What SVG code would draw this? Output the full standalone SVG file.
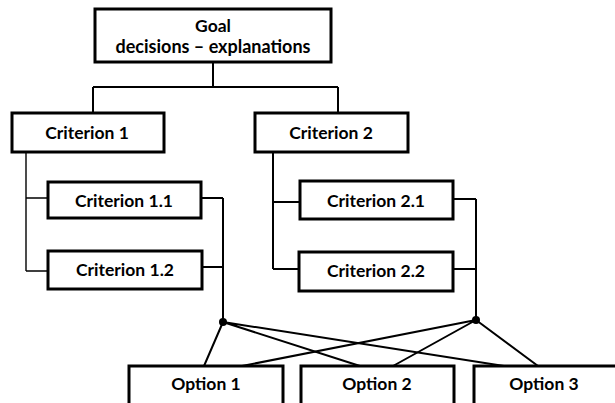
<svg xmlns="http://www.w3.org/2000/svg" width="615" height="403" viewBox="0 0 615 403">
<style>
.box{fill:#fff;stroke:#000;stroke-width:3}
.t{font-family:Lato,"Liberation Sans",sans-serif;font-weight:bold;font-size:17.5px;fill:#000;text-anchor:middle}
.c{fill:none;stroke:#000;stroke-width:2}
.thin{stroke-width:1.4}
</style>
<rect width="615" height="403" fill="#fff"/>
<g id="connectors">
<path class="c" d="M213,62V87M93,87H338M93,87V113M338,87V113"/>
<path class="c thin" d="M26,152V271M26,198H48M26,271H48"/>
<path class="c" d="M201,198H223M202,267H223M223,198V322"/>
<path class="c" d="M273,152V269M273,202H300M273,269H299"/>
<path class="c" d="M453,199H476M453,269H476M476,199V320"/>
<path class="c" d="M223,322L204,366M223,322L360,366M223,322L504,366"/>
<path class="c" d="M476,320L242,366M476,320L393,366M476,320L538,366"/>
<circle cx="223" cy="322" r="4"/>
<circle cx="476" cy="320" r="4"/>
</g>
<g id="goal"><rect class="box" x="95" y="9" width="236" height="53"/><text class="t" x="213" y="32">Goal</text><text class="t" x="213" y="53" style="font-size:18px">decisions – explanations</text></g>
<g id="criterion1"><rect class="box" x="12" y="113" width="152" height="39"/><text class="t" x="87" y="139">Criterion 1</text></g>
<g id="criterion2"><rect class="box" x="255" y="113" width="153" height="39"/><text class="t" x="331" y="139">Criterion 2</text></g>
<g id="criterion11"><rect class="box" x="48" y="182" width="153" height="36"/><text class="t" x="124" y="207">Criterion 1.1</text></g>
<g id="criterion12"><rect class="box" x="48" y="251" width="154" height="38"/><text class="t" x="125" y="276">Criterion 1.2</text></g>
<g id="criterion21"><rect class="box" x="300" y="181" width="153" height="38"/><text class="t" x="376" y="207">Criterion 2.1</text></g>
<g id="criterion22"><rect class="box" x="299" y="252" width="154" height="39"/><text class="t" x="376" y="277">Criterion 2.2</text></g>
<g id="option1"><rect class="box" x="129" y="366" width="154" height="40"/><text class="t" x="206" y="390">Option 1</text></g>
<g id="option2"><rect class="box" x="301" y="366" width="153" height="40"/><text class="t" x="377" y="390">Option 2</text></g>
<g id="option3"><rect class="box" x="474" y="366" width="150" height="40"/><text class="t" x="544" y="390">Option 3</text></g>
</svg>
